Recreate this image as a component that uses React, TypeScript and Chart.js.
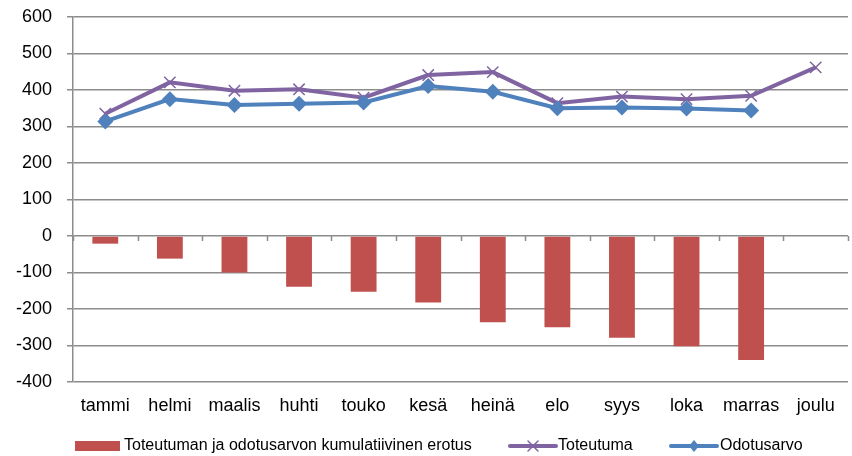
import React, { useEffect, useRef } from "react";
import { Chart, registerables } from "chart.js";

Chart.register(...registerables);

const months = ["tammi", "helmi", "maalis", "huhti", "touko", "kesä", "heinä", "elo", "syys", "loka", "marras", "joulu"];
const erotus: (number | null)[] = [-21, -62, -100, -139, -153, -182, -236, -250, -279, -302, -340, null];
const toteutuma: (number | null)[] = [335, 421, 398, 402, 379, 441, 449, 364, 382, 375, 384, 462];
const odotusarvo: (number | null)[] = [314, 375, 359, 362, 366, 411, 395, 350, 352, 349, 344, null];
const yTicks = [600, 500, 400, 300, 200, 100, 0, -100, -200, -300, -400];

const labelErotus = "Toteutuman ja odotusarvon kumulatiivinen erotus";
const labelToteutuma = "Toteutuma";
const labelOdotus = "Odotusarvo";

const RED = "#C0504D";
const PURPLE = "#8064A2";
const BLUE = "#4F81BD";
const GRID = "#8c8c8c";
const FONT = "'Liberation Sans', Arial, sans-serif";

const zeroTicksPlugin = {
  id: "zeroTicks",
  beforeDatasetsDraw(chart: any) {
    const x = chart.scales.x;
    const y = chart.scales.y;
    const ctx = chart.ctx;
    const y0 = y.getPixelForValue(0);
    const n = months.length;
    const step = (x.right - x.left) / n;
    ctx.save();
    ctx.strokeStyle = GRID;
    ctx.lineWidth = 1.5;
    ctx.beginPath();
    for (let i = 0; i <= n; i++) {
      const px = Math.round(x.left + i * step) + 0.5;
      ctx.moveTo(px, y0);
      ctx.lineTo(px, y0 + 5);
    }
    ctx.stroke();
    ctx.restore();
  },
};

const legendPlugin = {
  id: "customLegend",
  afterDraw(chart: any) {
    const ctx = chart.ctx;
    const cy = 446;
    ctx.save();
    ctx.font = `16px ${FONT}`;
    ctx.textBaseline = "middle";
    ctx.textAlign = "left";
    ctx.fillStyle = RED;
    ctx.fillRect(75, cy - 5, 45, 10);
    ctx.fillStyle = "#000";
    ctx.fillText(labelErotus, 124, cy);
    ctx.strokeStyle = PURPLE;
    ctx.lineWidth = 4;
    ctx.lineCap = "round";
    ctx.beginPath();
    ctx.moveTo(510, cy);
    ctx.lineTo(556, cy);
    ctx.stroke();
    ctx.lineWidth = 1.5;
    ctx.beginPath();
    ctx.moveTo(533 - 5, cy - 5);
    ctx.lineTo(533 + 5, cy + 5);
    ctx.moveTo(533 + 5, cy - 5);
    ctx.lineTo(533 - 5, cy + 5);
    ctx.stroke();
    ctx.fillText(labelToteutuma, 558, cy);
    ctx.strokeStyle = BLUE;
    ctx.lineWidth = 4;
    ctx.beginPath();
    ctx.moveTo(671, cy);
    ctx.lineTo(717, cy);
    ctx.stroke();
    ctx.fillStyle = BLUE;
    ctx.beginPath();
    ctx.moveTo(694, cy - 6);
    ctx.lineTo(699, cy);
    ctx.lineTo(694, cy + 6);
    ctx.lineTo(689, cy);
    ctx.closePath();
    ctx.fill();
    ctx.fillStyle = "#000";
    ctx.fillText(labelOdotus, 720, cy);
    ctx.restore();
  },
};

export default function App() {
  const ref = useRef<HTMLCanvasElement | null>(null);
  useEffect(() => {
    document.body.style.margin = "0";
    const canvas = ref.current;
    if (!canvas) return;
    const chart = new Chart(canvas, {
      type: "bar",
      data: {
        labels: months,
        datasets: [
          {
            type: "bar",
            label: labelErotus,
            data: erotus,
            backgroundColor: RED,
            borderWidth: 0,
            barPercentage: 0.4,
            categoryPercentage: 1,
            order: 3,
          },
          {
            type: "line",
            label: labelToteutuma,
            data: toteutuma,
            borderColor: PURPLE,
            backgroundColor: PURPLE,
            borderWidth: 4,
            pointStyle: "crossRot",
            pointRadius: 8,
            pointBorderWidth: 1.5,
            pointBorderColor: PURPLE,
            tension: 0,
            order: 2,
          } as any,
          {
            type: "line",
            label: labelOdotus,
            data: odotusarvo,
            borderColor: BLUE,
            backgroundColor: BLUE,
            borderWidth: 4,
            pointStyle: "rectRot",
            pointRadius: 8,
            pointBorderWidth: 0,
            tension: 0,
            order: 1,
          } as any,
        ],
      },
      options: {
        animation: false,
        responsive: false,
        maintainAspectRatio: false,
        layout: { autoPadding: false, padding: { top: 17, right: 4, left: 0, bottom: 34 } },
        plugins: {
          legend: { display: false },
          tooltip: { enabled: false },
        },
        scales: {
          x: {
            type: "category",
            position: "bottom",
            offset: true,
            grid: { display: false },
            border: { display: false },
            ticks: { color: "#000", font: { family: FONT, size: 18 }, padding: 5, maxRotation: 0, autoSkip: false },
            afterFit(scale: any) {
              scale.height = 40;
              scale.paddingLeft = 0;
              scale.paddingRight = 0;
            },
          },
          y: {
            min: -400,
            max: 600,
            afterBuildTicks(scale: any) {
              scale.ticks = yTicks.map((v) => ({ value: v }));
            },
            grid: { color: GRID, lineWidth: 1.5, tickLength: 6, drawTicks: true },
            border: { display: true, color: GRID, width: 1.5 },
            ticks: { color: "#000", font: { family: FONT, size: 18 }, padding: 15 },
            afterFit(scale: any) {
              scale.width = 73;
              scale.paddingTop = 0;
              scale.paddingBottom = 0;
            },
          },
        },
      } as any,
      plugins: [zeroTicksPlugin, legendPlugin],
    });
    return () => chart.destroy();
  }, []);
  return (
    <div style={{ width: 852, height: 456, position: "relative", background: "#fff" }}>
      <canvas ref={ref} width={852} height={456} style={{ width: 852, height: 456 }} />
    </div>
  );
}
